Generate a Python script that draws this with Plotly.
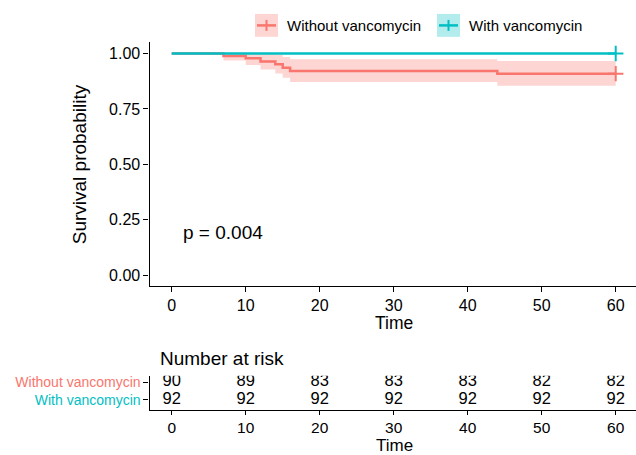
import plotly.graph_objects as go

W, H = 636, 455
RED = "#F8766D"
TEAL = "#00BFC4"

# ---- data ----
groups = ["Without vancomycin", "With vancomycin"]
times_without = [0, 7, 10, 12, 14, 15, 16, 44, 60]
surv_without = [1.0, 0.989, 0.978, 0.964, 0.951, 0.936, 0.921, 0.909, 0.909]
lower_without = [1.0, 0.968, 0.948, 0.928, 0.910, 0.890, 0.871, 0.855, 0.855]
upper_without = [1.0, 1.0, 1.0, 1.0, 0.994, 0.984, 0.974, 0.966, 0.966]
times_with = [0, 60]
surv_with = [1.0, 1.0]
censor_time = [60]
risk_times = [0, 10, 20, 30, 40, 50, 60]
risk_without = [90, 89, 83, 83, 83, 82, 82]
risk_with = [92, 92, 92, 92, 92, 92, 92]
y_ticks = [0.0, 0.25, 0.5, 0.75, 1.0]
y_ticklabels = ["0.00", "0.25", "0.50", "0.75", "1.00"]
x_ticks = [0, 10, 20, 30, 40, 50, 60]
p_text = "p = 0.004"


def px(x):
    return x / W


def py(y):
    return 1 - y / H


FONT = "Liberation Sans, Arial, sans-serif"
fig = go.Figure()

# confidence band (Without)
fig.add_trace(go.Scatter(x=times_without, y=lower_without, mode="lines",
                         line=dict(width=0, shape="hv", color=RED),
                         showlegend=False, hoverinfo="skip", xaxis="x", yaxis="y"))
fig.add_trace(go.Scatter(x=times_without, y=upper_without, mode="lines",
                         line=dict(width=0, shape="hv", color=RED),
                         fill="tonexty", fillcolor="rgba(248,118,109,0.3)",
                         showlegend=False, hoverinfo="skip", xaxis="x", yaxis="y"))
# survival curves
fig.add_trace(go.Scatter(x=times_without, y=surv_without, mode="lines",
                         line=dict(width=2.5, shape="hv", color=RED),
                         name=groups[0], showlegend=False, xaxis="x", yaxis="y"))
fig.add_trace(go.Scatter(x=times_with, y=surv_with, mode="lines",
                         line=dict(width=2.5, shape="hv", color=TEAL),
                         name=groups[1], showlegend=False, xaxis="x", yaxis="y"))
# censor marks
fig.add_trace(go.Scatter(x=censor_time, y=[surv_without[-1]], mode="markers",
                         marker=dict(symbol="cross-thin", size=11,
                                     line=dict(width=2, color=RED)),
                         showlegend=False, xaxis="x", yaxis="y"))
fig.add_trace(go.Scatter(x=censor_time, y=[surv_with[-1]], mode="markers",
                         marker=dict(symbol="cross-thin", size=11,
                                     line=dict(width=2, color=TEAL)),
                         showlegend=False, xaxis="x", yaxis="y"))

# risk table numbers
fig.add_trace(go.Scatter(x=risk_times, y=[1] * len(risk_times), mode="text",
                         text=[str(v) for v in risk_without],
                         textfont=dict(size=16.5, color="black", family=FONT),
                         showlegend=False, xaxis="x2", yaxis="y2"))
fig.add_trace(go.Scatter(x=risk_times, y=[0] * len(risk_times), mode="text",
                         text=[str(v) for v in risk_with],
                         textfont=dict(size=16.5, color="black", family=FONT),
                         showlegend=False, xaxis="x2", yaxis="y2"))

xdom = [px(149.5), 1.0]
xrange = [-3, 62.74]
axis_common = dict(showline=True, linecolor="black", linewidth=1.2,
                   ticks="outside", ticklen=5, tickwidth=1.2, tickcolor="black",
                   showgrid=False, zeroline=False,
                   tickfont=dict(size=16, color="black", family=FONT))
axis_nofont = {k: v for k, v in axis_common.items() if k != "tickfont"}

fig.update_layout(
    width=W, height=H,
    margin=dict(l=0, r=0, t=0, b=0),
    paper_bgcolor="white", plot_bgcolor="white",
    xaxis=dict(domain=xdom, range=xrange, tickvals=x_ticks, anchor="y", **axis_common),
    yaxis=dict(domain=[py(285.4), py(40.6)], range=[-0.05, 1.05],
               tickvals=y_ticks, ticktext=y_ticklabels, anchor="x", **axis_common),
    xaxis2=dict(domain=xdom, range=xrange, tickvals=x_ticks, anchor="y2",
                ticklen=4, **{k: v for k, v in axis_nofont.items() if k != "ticklen"},
                tickfont=dict(size=15.5, color="black", family=FONT)),
    yaxis2=dict(domain=[py(409.5), py(375.5)], range=[-0.565, 1.356],
                tickvals=[1, 0],
                ticktext=[f"<span style='color:{RED}'>{groups[0]}</span>",
                          f"<span style='color:{TEAL}'>{groups[1]}</span>"],
                anchor="x2", **axis_nofont,
                tickfont=dict(size=14, family=FONT)),
)


def note(x, y, text, size, xanchor="center", angle=0, ref="paper"):
    return dict(x=x, y=y, xref=ref if ref == "paper" else "x",
                yref=ref if ref == "paper" else "y", text=text,
                textangle=angle, showarrow=False, xanchor=xanchor, yanchor="middle",
                font=dict(size=size, color="black", family=FONT))


ann = [
    note(px(79), py(163), "Survival probability", 19, angle=-90),
    note(px(394.5), py(322.5), "Time", 17.5),
    note(px(394.5), py(445.5), "Time", 17),
    note(px(158), py(358), "Number at risk", 19, xanchor="left"),
    note(1.2, 0.19, p_text, 19, xanchor="left", ref="data"),
    note(px(285), py(23.5), groups[0], 15, xanchor="left"),
    note(px(467), py(23.5), groups[1], 15, xanchor="left"),
]
fig.update_layout(annotations=ann)

shapes = []
for (x0, col, fillc) in [(255, RED, "rgba(248,118,109,0.3)"), (437, TEAL, "rgba(0,191,196,0.3)")]:
    shapes.append(dict(type="rect", xref="paper", yref="paper",
                       x0=px(x0), x1=px(x0 + 23), y0=py(35), y1=py(12),
                       fillcolor=fillc, line=dict(width=0)))
    shapes.append(dict(type="line", xref="paper", yref="paper",
                       x0=px(x0 + 2), x1=px(x0 + 21), y0=py(23.5), y1=py(23.5),
                       line=dict(color=col, width=2.5)))
    shapes.append(dict(type="line", xref="paper", yref="paper",
                       x0=px(x0 + 11.5), x1=px(x0 + 11.5), y0=py(18), y1=py(29),
                       line=dict(color=col, width=2)))
fig.update_layout(shapes=shapes)

fig.write_html("out.html", config={"displayModeBar": False},
               post_script="document.body.style.margin='0';document.body.style.padding='0';")
